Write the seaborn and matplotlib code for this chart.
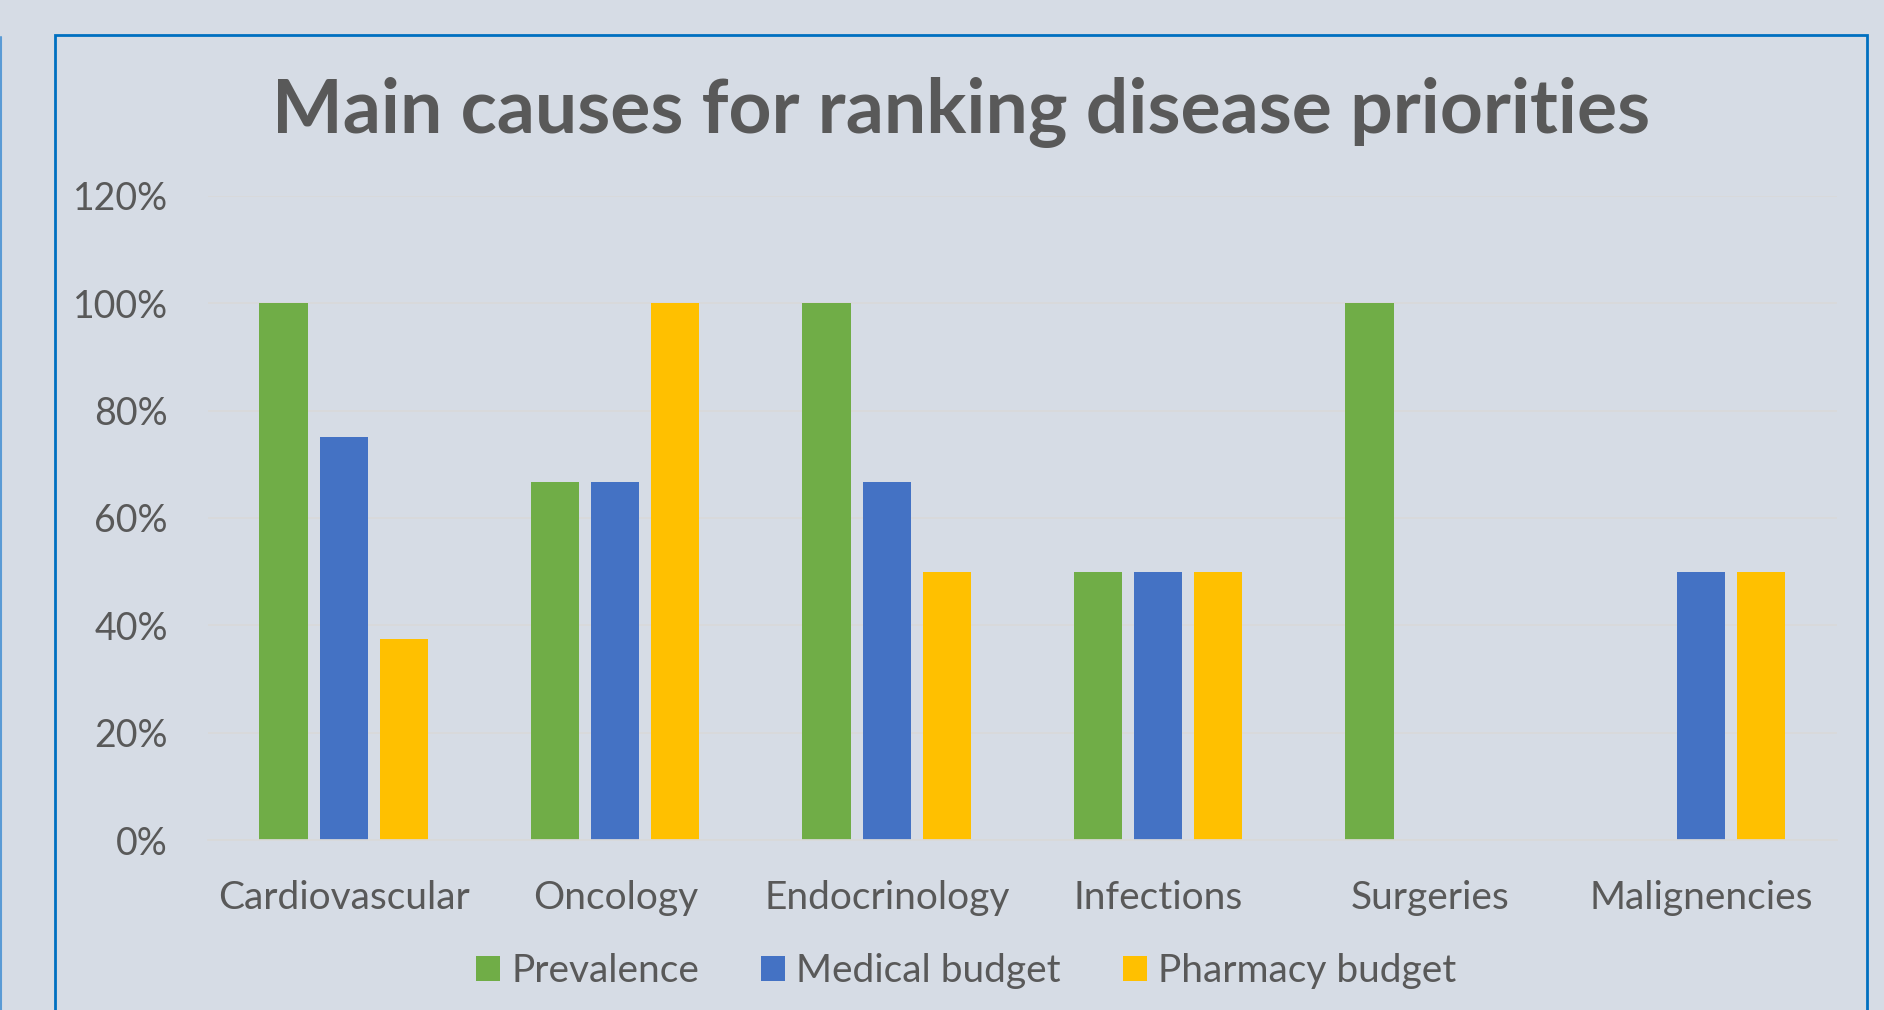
import pandas as pd
import seaborn as sns
import matplotlib.pyplot as plt
import matplotlib.patches as mpatches
from matplotlib.ticker import PercentFormatter

# data
categories = ['Cardiovascular', 'Oncology', 'Endocrinology', 'Infections', 'Surgeries', 'Malignencies']
series = ['Prevalence', 'Medical budget', 'Pharmacy budget']
prevalence = [1.0, 0.667, 1.0, 0.5, 1.0, 0.0]
medical_budget = [0.75, 0.667, 0.667, 0.5, 0.0, 0.5]
pharmacy_budget = [0.375, 1.0, 0.5, 0.5, 0.0, 0.5]
colors = ['#70AD47', '#4472C4', '#FFC000']

df = pd.DataFrame({
    'category': categories * 3,
    'series': [s for s in series for _ in categories],
    'value': prevalence + medical_budget + pharmacy_budget,
})

bg = '#D6DCE5'
txt = '#595959'

sns.set_theme(style='white')
plt.rcParams['font.family'] = ['Lato', 'DejaVu Sans']

fig = plt.figure(figsize=(18.84, 10.10), dpi=100, facecolor=bg)
ax = fig.add_axes([0.1104, 0.1683, 0.8646, 0.6377])
ax.set_facecolor(bg)

sns.barplot(data=df, x='category', y='value', hue='series', hue_order=series,
            palette=colors, width=0.665, gap=0.2, saturation=1, linewidth=0, ax=ax)

handles, labels = ax.get_legend_handles_labels()
ax.get_legend().remove()

ax.set_ylim(0, 1.2)
ax.set_yticks([0, 0.2, 0.4, 0.6, 0.8, 1.0, 1.2])
ax.yaxis.set_major_formatter(PercentFormatter(1.0, decimals=0))
ax.grid(axis='y', color='#D9D9D9', linewidth=1.2)
ax.set_axisbelow(True)
for s in ['top', 'right', 'left']:
    ax.spines[s].set_visible(False)
ax.spines['bottom'].set_color('#D9D9D9')
ax.set_xlabel('')
ax.set_ylabel('')
ax.tick_params(axis='y', length=0, pad=29, labelsize=27, labelcolor=txt)
ax.tick_params(axis='x', length=0, pad=28.5, labelsize=28, labelcolor=txt)

fig.text(0.510, 1 - 112 / 1010, 'Main causes for ranking disease priorities',
         ha='center', va='center', fontsize=54, fontweight='bold', color=txt)

fig.legend(handles, labels, loc='center', bbox_to_anchor=(0.513, 1 - 971 / 1010),
           ncol=3, frameon=False, fontsize=28, labelcolor=txt,
           handlelength=0.6, handleheight=0.6, handletextpad=0.3, columnspacing=1.6)

# chart frame
fig.add_artist(mpatches.Rectangle((55 / 1884, -0.05), (1867 - 55) / 1884, 1.05 - 35 / 1010,
                                  transform=fig.transFigure, fill=False,
                                  edgecolor='#0070C0', linewidth=2))
fig.add_artist(plt.Line2D([0.0005, 0.0005], [0, 1 - 37 / 1010], transform=fig.transFigure,
                          color='#5B9BD5', linewidth=1.5))

fig.savefig('out.png', dpi=100, facecolor=bg)
